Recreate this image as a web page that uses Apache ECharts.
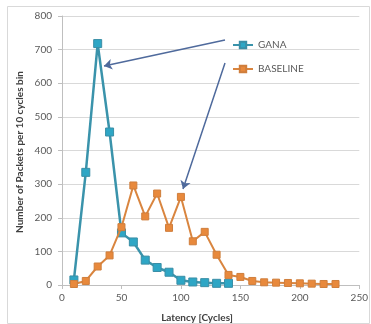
<!DOCTYPE html>
<html>
<head>
<meta charset="utf-8">
<script src="https://cdn.jsdelivr.net/npm/echarts@6/dist/echarts.min.js"></script>
<style>
  html, body { margin: 0; padding: 0; background: #fff; }
  #chart { width: 371px; height: 324px; }
</style>
</head>
<body>
<div id="chart"></div>
<script>
// Latency histogram: packets per 10-cycle bin
const ganaLatency = [10, 20, 30, 40, 50, 60, 70, 80, 90, 100, 110, 120, 130, 140];
const ganaPackets = [15, 335, 718, 455, 155, 128, 74, 52, 38, 14, 9, 7, 5, 5];

const baseLatency = [10, 20, 30, 40, 50, 60, 70, 80, 90, 100, 110, 120, 130, 140, 150, 160, 170, 180, 190, 200, 210, 220, 230];
const basePackets = [3, 12, 55, 88, 172, 296, 204, 272, 170, 262, 130, 158, 90, 30, 24, 12, 8, 7, 6, 5, 4, 3, 3];

const xTicks = [0, 50, 100, 150, 200, 250];
const yTicks = [0, 100, 200, 300, 400, 500, 600, 700, 800];

const FONT = 'Lato, "Liberation Sans", sans-serif';
const pair = (xs, ys) => xs.map((x, i) => [x, ys[i]]);

const chart = echarts.init(document.getElementById('chart'), null, { renderer: 'canvas' });
chart.setOption({
  animation: false,
  backgroundColor: '#ffffff',
  textStyle: { fontFamily: FONT },
  grid: { left: 62, right: 9, top: 16, bottom: 39 },
  xAxis: {
    type: 'value',
    min: xTicks[0], max: xTicks[xTicks.length - 1], interval: 50,
    axisLine: { lineStyle: { color: '#bfbfbf' } },
    axisTick: { show: true, length: 4, lineStyle: { color: '#bfbfbf' } },
    axisLabel: { color: '#595959', fontSize: 10, margin: 8, fontFamily: FONT },
    splitLine: { show: false }
  },
  yAxis: {
    type: 'value',
    min: yTicks[0], max: yTicks[yTicks.length - 1], interval: 100,
    axisLine: { show: true, lineStyle: { color: '#bfbfbf' } },
    axisTick: { show: true, length: 4, lineStyle: { color: '#bfbfbf' } },
    axisLabel: { color: '#595959', fontSize: 10, margin: 10, fontFamily: FONT },
    splitLine: { lineStyle: { color: '#d9d9d9' } }
  },
  legend: {
    orient: 'vertical',
    left: 227, top: 35,
    itemWidth: 20, itemHeight: 8, itemGap: 14,
    textStyle: { color: '#595959', fontSize: 10, fontFamily: FONT },
    data: ['GANA', 'BASELINE']
  },
  series: [
    {
      name: 'GANA',
      type: 'line',
      data: pair(ganaLatency, ganaPackets),
      symbol: 'rect', symbolSize: 8,
      lineStyle: { color: '#3a93ab', width: 2.5 },
      itemStyle: { color: '#2ea6c5', borderColor: '#3a8ea6', borderWidth: 1 },
      z: 2,
      markLine: {
        silent: true,
        symbol: ['none', 'arrow'], symbolSize: 8,
        label: { show: false },
        lineStyle: { color: '#4f6a9c', width: 1.5, type: 'solid' },
        data: [
          [{ x: 225, y: 40 }, { x: 104, y: 66 }],
          [{ x: 225, y: 63 }, { x: 183, y: 189 }]
        ]
      }
    },
    {
      name: 'BASELINE',
      type: 'line',
      data: pair(baseLatency, basePackets),
      symbol: 'rect', symbolSize: 7,
      lineStyle: { color: '#d9853f', width: 2 },
      itemStyle: { color: '#e8893c', borderColor: '#cf7e3c', borderWidth: 1 },
      z: 3
    }
  ],
  graphic: [
    {
      type: 'rect', silent: true, z: -1,
      shape: { x: 7.5, y: 6.5, width: 362, height: 317 },
      style: { fill: 'none', stroke: '#d9d9d9', lineWidth: 1 }
    },
    {
      type: 'text', rotation: Math.PI / 2,
      x: 20, y: 152,
      style: {
        text: 'Number of Packets per 10 cycles bin',
        fill: '#404040', font: 'bold 10px ' + FONT,
        align: 'center', verticalAlign: 'middle'
      }
    },
    {
      type: 'text',
      x: 197, y: 318,
      style: {
        text: 'Latency [Cycles]',
        fill: '#404040', font: 'bold 10px ' + FONT,
        align: 'center', verticalAlign: 'middle'
      }
    }
  ]
});
</script>
</body>
</html>
